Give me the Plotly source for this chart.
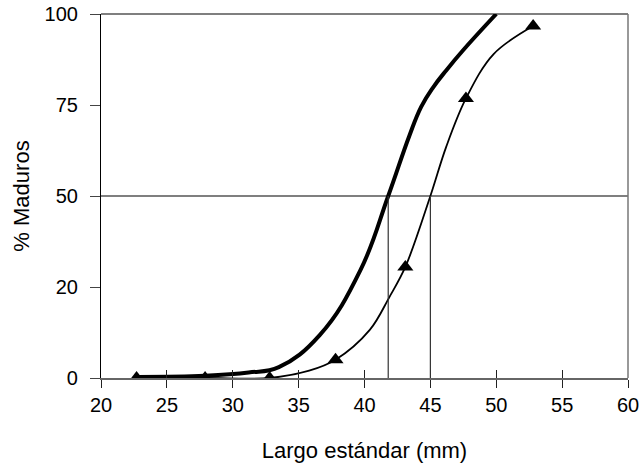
import plotly.graph_objects as go

# Thick curve (no markers)
thick_x = [22.7, 27.9, 31.2, 33.5, 36.6, 39.7, 41.8, 43.4, 44.3, 45.2, 46.2, 47.5, 50.0]
thick_y = [0.3, 0.6, 1.5, 3.0, 11.8, 29.7, 50.0, 66.5, 74.5, 79.8, 84.5, 90.1, 100.0]

# Thin fitted curve
thin_line_x = [22.7, 27.9, 32.8, 35.8, 37.8, 40.4, 41.9, 43.1, 45.0, 46.2, 47.7, 49.8, 52.8]
thin_line_y = [0.0, 0.0, 0.0, 2.0, 5.0, 13.2, 22.3, 30.5, 50.0, 63.5, 76.8, 89.0, 96.7]

# Observed points (triangles)
obs_x = [22.7, 27.9, 32.8, 37.8, 43.1, 47.7, 52.8]
obs_y = [0.0, 0.0, 0.0, 5.0, 30.5, 76.8, 96.7]

# 50% maturity lengths
l50_x = [41.8, 45.0]
half_level = 50

x_ticks = [20, 25, 30, 35, 40, 45, 50, 55, 60]
y_tickvals = [0, 25, 50, 75, 100]
y_ticktext = ["0", "20", "50", "75", "100"]

FONT = "Liberation Sans, Arial, sans-serif"

fig = go.Figure()

fig.add_trace(go.Scatter(
    x=thick_x, y=thick_y, mode="lines",
    line=dict(color="black", width=4, shape="spline", smoothing=1.2),
    showlegend=False, hoverinfo="skip"))

fig.add_trace(go.Scatter(
    x=thin_line_x, y=thin_line_y, mode="lines",
    line=dict(color="black", width=1.8, shape="spline", smoothing=1.0),
    showlegend=False, hoverinfo="skip"))

fig.add_trace(go.Scatter(
    x=obs_x, y=obs_y, mode="markers",
    marker=dict(symbol="triangle-up", size=14, color="black"),
    showlegend=False, hoverinfo="skip"))

# dummy trace for overlaid axis (inside ticks)
fig.add_trace(go.Scatter(x=[20, 60], y=[0, 0], xaxis="x2", mode="lines",
                         line=dict(width=0), showlegend=False, hoverinfo="skip"))

# horizontal 50% line across the plot
fig.add_shape(type="line", xref="paper", yref="y", x0=0, x1=1,
              y0=half_level, y1=half_level, line=dict(color="black", width=1.2))
# vertical L50 lines
for xv in l50_x:
    fig.add_shape(type="line", xref="x", yref="y", x0=xv, x1=xv,
                  y0=0, y1=half_level, line=dict(color="#333333", width=1.2))
# top and right borders
fig.add_shape(type="line", xref="paper", yref="paper", x0=0, x1=1, y0=1, y1=1,
              line=dict(color="black", width=1.2))
fig.add_shape(type="line", xref="paper", yref="paper", x0=1, x1=1, y0=0, y1=1,
              line=dict(color="#777777", width=1.5))

fig.update_layout(
    width=644, height=471,
    margin=dict(l=101, r=16, t=14, b=93),
    paper_bgcolor="white", plot_bgcolor="white",
    font=dict(family=FONT, size=20, color="black"),
    xaxis=dict(
        range=[20, 60], tickvals=x_ticks, ticks="outside", ticklen=8,
        tickcolor="#222222", tickwidth=1.2, automargin=False,
        showline=True, linecolor="#666666", linewidth=1.5,
        showgrid=False, zeroline=False,
        title=dict(text="Largo estándar (mm)", standoff=28,
                   font=dict(family=FONT, size=22)),
        tickfont=dict(family=FONT, size=20)),
    xaxis2=dict(
        range=[20, 60], overlaying="x", matches="x", tickvals=x_ticks,
        ticks="inside", ticklen=8, tickcolor="#222222", tickwidth=1.2,
        showticklabels=False, showline=False, showgrid=False, zeroline=False,
        side="bottom", automargin=False),
    yaxis=dict(
        range=[0, 100], tickvals=y_tickvals, ticktext=y_ticktext,
        ticks="outside", ticklen=10, tickcolor="#444444", tickwidth=1.2,
        ticklabelstandoff=8,
        showline=True, linecolor="black", linewidth=1.2, automargin=False,
        showgrid=False, zeroline=False,
        title=dict(text="% Maduros", standoff=8,
                   font=dict(family=FONT, size=22)),
        tickfont=dict(family=FONT, size=20)),
)

fig.write_html("out.html")
